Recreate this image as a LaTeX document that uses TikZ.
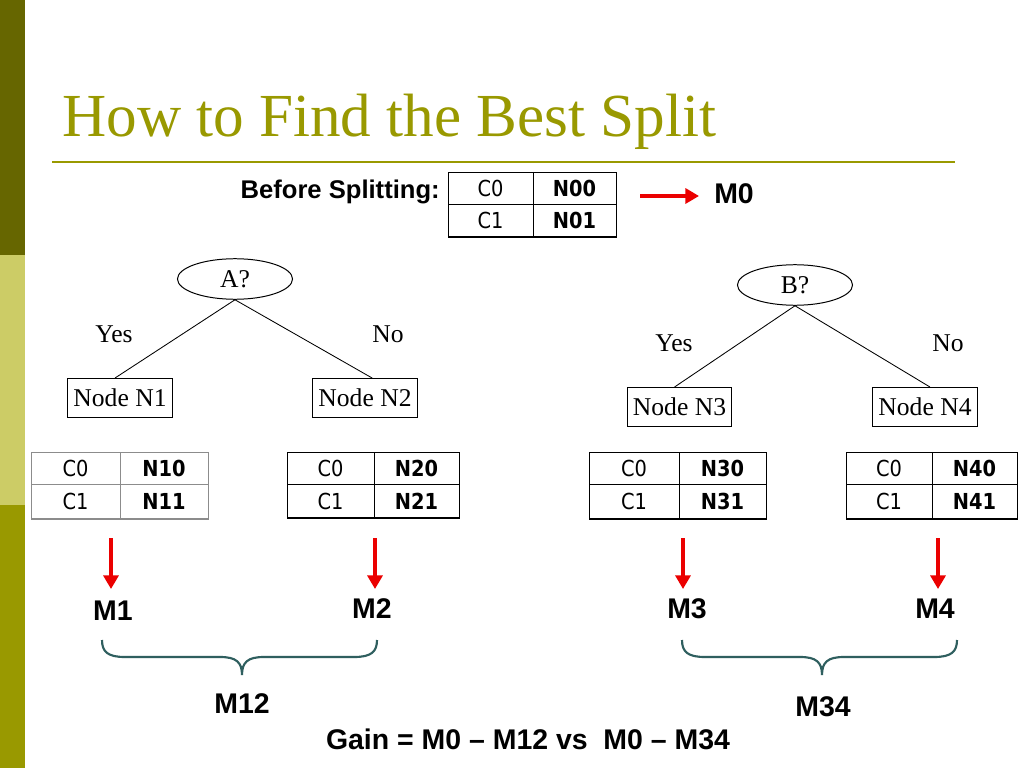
\documentclass[tikz,border=0pt]{standalone}
\usepackage{fontspec}
\setmainfont{Liberation Serif}
\newfontfamily\arialf{Liberation Sans}
\newfontfamily\tahf{DejaVu Sans}[FakeStretch=0.88]
\usetikzlibrary{arrows.meta,shapes.geometric,calc}
\definecolor{olivedark}{RGB}{102,102,0}
\definecolor{olivelight}{RGB}{204,204,102}
\definecolor{olivemid}{RGB}{153,153,0}
\definecolor{titlecol}{RGB}{153,153,0}
\definecolor{bracecol}{RGB}{47,95,95}
\definecolor{arrowred}{RGB}{235,0,0}
\tikzset{
  treebox/.style={draw, line width=0.7pt, inner sep=0pt, minimum width=73.8pt, minimum height=27.4pt, font=\fontsize{18}{20}\selectfont},
  question/.style={draw, ellipse, line width=0.7pt, inner sep=0pt, minimum width=80.9pt, minimum height=28.5pt, font=\fontsize{18}{20}\selectfont},
  branchlabel/.style={inner sep=0pt, font=\fontsize{18}{20}\selectfont},
  edge/.style={line width=0.6pt},
  tabline/.style={draw=black, line width=0.7pt},
  cellr/.style={inner sep=0pt, font=\tahf\fontsize{15.5}{17}\selectfont},
  cellb/.style={inner sep=0pt, font=\tahf\bfseries\fontsize{15.5}{17}\selectfont},
  mlabel/.style={inner sep=0pt, font=\arialf\bfseries\fontsize{20}{22}\selectfont},
  redarrow/.style={draw=arrowred, line width=2.2pt, -{Triangle[length=9.5pt,width=10.5pt]}},
  bracestyle/.style={draw=bracecol, line width=1.5pt},
}
% #1 x1, #2 xdiv, #3 x2, #4 y1, #5 ymid, #6 y2, #7 name, #8 top value, #9 bottom value
\newcommand\cctab[9]{%
  \draw[tabline] (#1,#4) rectangle (#3,#6);
  \draw[tabline] (#1,#5) -- (#3,#5);
  \draw[tabline] (#2,#4) -- (#2,#6);
  \draw[tabline, line width=1.3pt] (#1,#6) -- (#3,#6);
  \node[cellr] (#7a) at ({(#1+#2)/2},{(#4+#5)/2}) {C0};
  \node[cellb] (#7b) at ({(#2+#3)/2},{(#4+#5)/2}) {#8};
  \node[cellr] (#7c) at ({(#1+#2)/2},{(#5+#6)/2}) {C1};
  \node[cellb] (#7d) at ({(#2+#3)/2},{(#5+#6)/2}) {#9};
}
\begin{document}
\begin{tikzpicture}[x=0.703125pt, y=-0.703125pt]
\useasboundingbox (0,0) rectangle (1024,768);
\fill[white] (0,0) rectangle (1024,768);
% left band
\fill[olivedark] (0,0) rectangle (25,255);
\fill[olivelight] (0,255) rectangle (25,505);
\fill[olivemid] (0,505) rectangle (25,768);
% title
\node[anchor=base west, inner sep=0pt, text=titlecol, font=\fontsize{43}{46}\selectfont] (title) at (62,137) {How to Find the Best Split};
\draw[titlecol, line width=1.5pt] (52,162) -- (955,162);
% before splitting
\node[anchor=east, inner sep=0pt, font=\arialf\bfseries\fontsize{18}{20}\selectfont] (before) at (440,192) {Before Splitting:};
\cctab{448}{533}{616}{172}{204}{237}{t0}{N00}{N01}
\coordinate (a0s) at (640,196);
\coordinate (a0e) at (699,196);
\draw[redarrow] (a0s) -- (a0e);
\node[mlabel] (m0) at (734,194) {M0};
% tree A
\node[question] (qa) at (235,279) {A?};
\node[treebox] (n1) at (120,398) {Node N1};
\node[treebox] (n2) at (365,398) {Node N2};
\draw[edge] (qa.south) -- ([xshift=-3.5pt]n1.north);
\draw[edge] (qa.south) -- ([xshift=5pt]n2.north);
\node[branchlabel] (yesa) at (114,334) {Yes};
\node[branchlabel] (noa) at (388,334) {No};
% tree B
\node[question] (qb) at (795,285) {B?};
\node[treebox] (n3) at (679.5,407) {Node N3};
\node[treebox] (n4) at (925,407) {Node N4};
\draw[edge] (qb.south) -- ([xshift=-3.5pt]n3.north);
\draw[edge] (qb.south) -- ([xshift=3.5pt]n4.north);
\node[branchlabel] (yesb) at (674,343) {Yes};
\node[branchlabel] (nob) at (948,343) {No};
% tables
\begin{scope}[tabline/.style={draw=black!45, line width=0.7pt}]
\cctab{31}{120}{208}{452}{484}{519}{t1}{N10}{N11}
\end{scope}
\cctab{287}{374}{459}{452}{484}{518}{t2}{N20}{N21}
\cctab{589}{679}{766}{452}{484}{519}{t3}{N30}{N31}
\cctab{846}{932}{1017}{452}{484}{519}{t4}{N40}{N41}
% arrows to measures
\coordinate (a1s) at (111,538); \coordinate (a1e) at (111,589);
\coordinate (a2s) at (375,538); \coordinate (a2e) at (375,589);
\coordinate (a3s) at (683,538); \coordinate (a3e) at (683,589);
\coordinate (a4s) at (938,538); \coordinate (a4e) at (938,589);
\draw[redarrow] (a1s) -- (a1e);
\draw[redarrow] (a2s) -- (a2e);
\draw[redarrow] (a3s) -- (a3e);
\draw[redarrow] (a4s) -- (a4e);
\node[mlabel] (m1) at (113,611) {M1};
\node[mlabel] (m2) at (372,609) {M2};
\node[mlabel] (m3) at (687,609) {M3};
\node[mlabel] (m4) at (935,609) {M4};
% braces
\draw[bracestyle] (102,640) .. controls (102,652) and (108,657) .. (125,657) -- (220,657)
  .. controls (236,657) and (242,662) .. (242,675)
  .. controls (242,662) and (248,657) .. (264,657) -- (354,657)
  .. controls (371,657) and (377,652) .. (377,640);
\draw[bracestyle] (682,640) .. controls (682,652) and (688,657) .. (705,657) -- (800,657)
  .. controls (816,657) and (822,662) .. (822,675)
  .. controls (822,662) and (828,657) .. (844,657) -- (934,657)
  .. controls (951,657) and (957,652) .. (957,640);
\node[mlabel] (m12) at (242,704) {M12};
\node[mlabel] (m34) at (823,707) {M34};
\node[mlabel] (gain) at (528,739) {Gain = M0 – M12 vs\ \ M0 – M34};
\end{tikzpicture}
\end{document}
